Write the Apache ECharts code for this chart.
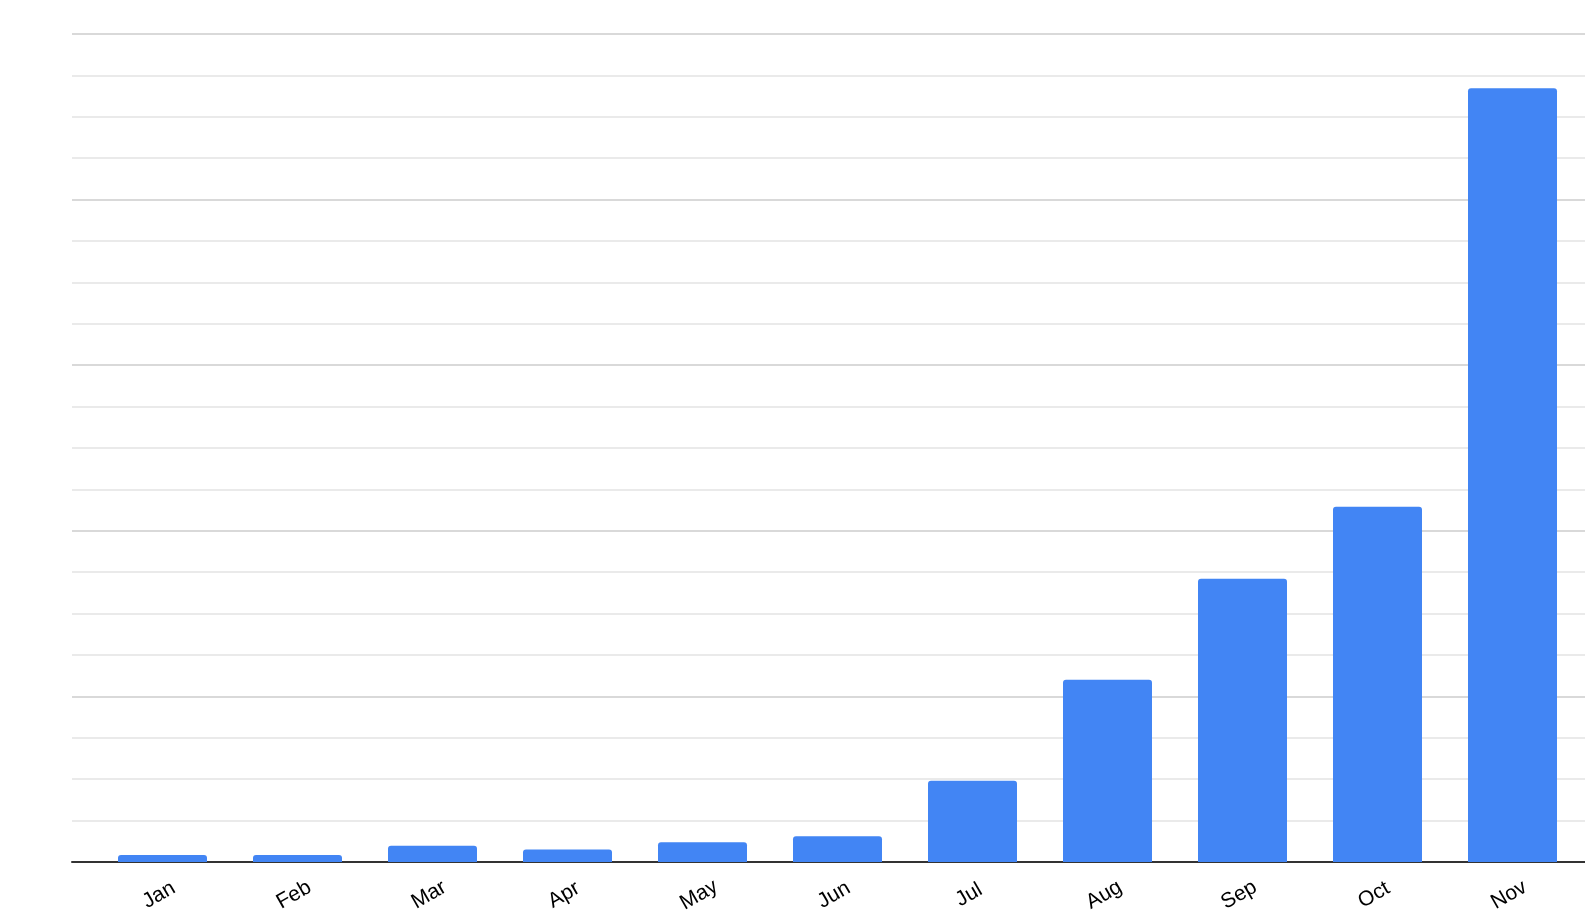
<!DOCTYPE html>
<html>
<head>
<meta charset="utf-8">
<script src="https://cdn.jsdelivr.net/npm/echarts@6/dist/echarts.min.js"></script>
<style>
  html, body { margin: 0; padding: 0; background: #fff; }
  #chart { width: 1585px; height: 920px; }
</style>
</head>
<body>
<div id="chart"></div>
<script>
var months = ['Jan', 'Feb', 'Mar', 'Apr', 'May', 'Jun', 'Jul', 'Aug', 'Sep', 'Oct', 'Nov'];
var values = [0.17, 0.17, 0.39, 0.30, 0.48, 0.62, 1.96, 4.40, 6.84, 8.58, 18.69];
var yMax = 20;
var yStep = 4;

var myChart = echarts.init(document.getElementById('chart'));
myChart.setOption({
  animation: false,
  grid: [
    // background grid: gridlines + baseline
    { left: 72, right: 0, top: 34, bottom: 58 },
    // bars
    { left: 95, right: 5, top: 34, bottom: 58 }
  ],
  xAxis: [
    {
      gridIndex: 0,
      type: 'category',
      data: months,
      axisLine: { show: true, lineStyle: { color: '#333', width: 2 } },
      axisTick: { show: false },
      axisLabel: { show: false }
    },
    {
      gridIndex: 1,
      type: 'category',
      data: months,
      axisLine: { show: false },
      axisTick: { show: false },
      axisLabel: {
        rotate: 30,
        align: 'center',
        verticalAlign: 'middle',
        margin: 31,
        padding: [0, 8, 0, 0],
        color: '#000',
        fontSize: 21,
        fontFamily: 'Liberation Sans, Arial, sans-serif'
      }
    }
  ],
  yAxis: [
    {
      gridIndex: 0,
      type: 'value',
      min: 0,
      max: yMax,
      interval: yStep,
      axisLine: { show: false },
      axisTick: { show: false },
      axisLabel: { show: false },
      splitLine: { lineStyle: { color: '#cccccc', width: 1.5 } },
      minorTick: { show: false, splitNumber: 4 },
      minorSplitLine: { show: true, lineStyle: { color: '#e4e4e4', width: 1.5 } }
    },
    {
      gridIndex: 1,
      type: 'value',
      min: 0,
      max: yMax,
      interval: yStep,
      axisLine: { show: false },
      axisTick: { show: false },
      axisLabel: { show: false },
      splitLine: { show: false }
    }
  ],
  series: [
    {
      type: 'bar',
      xAxisIndex: 1,
      yAxisIndex: 1,
      data: values,
      barWidth: 89,
      itemStyle: { color: '#4285F4', borderRadius: [3, 3, 0, 0] },
      z: 3
    }
  ]
});
</script>
</body>
</html>
